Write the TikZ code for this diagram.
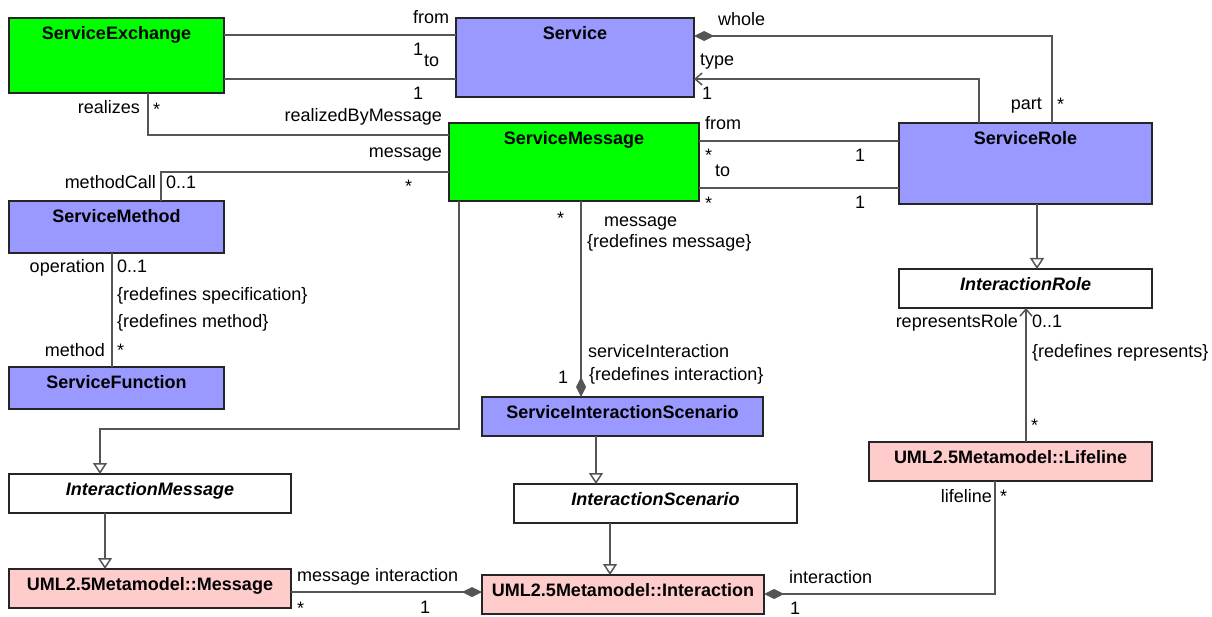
\documentclass[tikz,border=0pt]{standalone}
\usepackage{fontspec}
\setmainfont{Liberation Sans}
\usetikzlibrary{arrows.meta}

\definecolor{svcgreen}{HTML}{00FF00}
\definecolor{svcblue}{HTML}{9999FF}
\definecolor{umlpink}{HTML}{FFCCCC}
\definecolor{linegray}{HTML}{555555}
\newcommand{\dfont}{\fontsize{18}{21}\selectfont}

\tikzset{
  cls/.style n args={3}{draw=black!85, line width=1.5pt, fill=#1,
    minimum width=#2pt, minimum height=#3pt, inner sep=0pt, outer sep=0pt,
    anchor=north west},
  ttl/.style={anchor=north, yshift=-8.5pt, inner sep=0pt, font=\dfont\bfseries},
  abst/.style={font=\dfont\bfseries\itshape},
  lbl/.style={anchor=base west, inner sep=0pt, font=\dfont},
  lblr/.style={anchor=base east, inner sep=0pt, font=\dfont},
  assoc/.style={draw=linegray, line width=1.5pt},
  gen/.style={assoc, -{Triangle[open, length=11pt, width=14pt]}},
  comp/.tip={Diamond[length=20pt, width=10pt]},
  nav/.tip={Straight Barb[length=7pt, width=12pt]}
}

\begin{document}
\begin{tikzpicture}[x=1pt, y=-1pt]
  \useasboundingbox (0,0) rectangle (1212,617);
  % classes
  \node[cls={svcgreen}{215}{75}, label={[ttl]north:ServiceExchange}] (exch) at (9,18) {};
  \node[cls={svcblue}{238}{79}, label={[ttl]north:Service}] (svc) at (456,18) {};
  \node[cls={svcgreen}{250}{78}, label={[ttl]north:ServiceMessage}] (msg) at (449,123) {};
  \node[cls={svcblue}{253}{81}, label={[ttl]north:ServiceRole}] (role) at (899,123) {};
  \node[cls={svcblue}{215}{52}, label={[ttl]north:ServiceMethod}] (meth) at (9,201) {};
  \node[cls={svcblue}{215}{42}, label={[ttl]north:ServiceFunction}] (func) at (9,367) {};
  \node[cls={white}{253}{39}, label={[ttl,abst]north:InteractionRole}] (irole) at (899,269) {};
  \node[cls={svcblue}{281}{39}, label={[ttl]north:ServiceInteractionScenario}] (sis) at (482,397) {};
  \node[cls={umlpink}{283}{39}, label={[ttl]north:{UML2.5Metamodel::Lifeline}}] (life) at (869,442) {};
  \node[cls={white}{282}{39}, label={[ttl,abst]north:InteractionMessage}] (imsg) at (9,474) {};
  \node[cls={white}{283}{39}, label={[ttl,abst]north:InteractionScenario}] (iscen) at (514,484) {};
  \node[cls={umlpink}{282}{39}, label={[ttl]north:{UML2.5Metamodel::Message}}] (umsg) at (9,569) {};
  \node[cls={umlpink}{282}{39}, label={[ttl]north:{UML2.5Metamodel::Interaction}}] (inter) at (482,575) {};

  % associations
  \draw[assoc] (exch.east |- 0,35) -- (svc.west |- 0,35);
  \draw[assoc] (exch.east |- 0,79) -- (svc.west |- 0,79);
  \draw[assoc, comp-] (svc.east |- 0,36) -| (role.north -| 1052,0);
  \draw[assoc, nav-] (svc.east |- 0,79) -| (role.north -| 979,0);
  \draw[assoc] (exch.south -| 148,0) |- (msg.west |- 0,135);
  \draw[assoc] (msg.west |- 0,172) -| (meth.north -| 161,0);
  \draw[assoc] (msg.east |- 0,141) -- (role.west |- 0,141);
  \draw[assoc] (msg.east |- 0,188) -- (role.west |- 0,188);
  \draw[assoc] (meth.south -| 112,0) -- (func.north -| 112,0);
  \draw[assoc, -comp] (msg.south -| 581,0) -- (sis.north -| 581,0);
  \draw[assoc, -nav] (life.north -| 1026,0) -- (irole.south -| 1026,0);
  \draw[assoc, -comp] (umsg.east |- 0,592) -- (inter.west |- 0,592);
  \draw[assoc, -comp] (life.south -| 995,0) |- (inter.east |- 0,594);

  % generalizations
  \draw[gen] (msg.south -| 459,0) |- (100,429) -- (imsg.north -| 100,0);
  \draw[gen] (imsg.south -| 105,0) -- (umsg.north -| 105,0);
  \draw[gen] (sis.south -| 596,0) -- (iscen.north -| 596,0);
  \draw[gen] (iscen.south -| 610,0) -- (inter.north -| 610,0);
  \draw[gen] (role.south -| 1037,0) -- (irole.north -| 1037,0);

  % role names and multiplicities
  \node[lbl] at (413,24) {from};
  \node[lbl] at (413,56) {1};
  \node[lbl] at (424,67) {to};
  \node[lbl] at (413,100) {1};
  \node[lblr] at (140,114) {realizes};
  \node[lbl] at (153,116) {*};
  \node[lblr] at (442,122) {realizedByMessage};
  \node[lblr] at (442,158) {message};
  \node[lblr] at (156,189) {methodCall};
  \node[lbl] at (166,189) {0..1};
  \node[lbl] at (405,193) {*};
  \node[lbl] at (718,26) {whole};
  \node[lbl] at (700,66) {type};
  \node[lbl] at (702,100) {1};
  \node[lbl] at (705,130) {from};
  \node[lbl] at (705,162) {*};
  \node[lbl] at (855,162) {1};
  \node[lbl] at (715,177) {to};
  \node[lbl] at (705,210) {*};
  \node[lbl] at (855,209) {1};
  \node[lblr] at (1042,110) {part};
  \node[lbl] at (1057,111) {*};
  \node[lblr] at (105,273) {operation};
  \node[lbl] at (117,273) {0..1};
  \node[lbl] at (117,301) {\{redefines specification\}};
  \node[lbl] at (117,327) {\{redefines method\}};
  \node[lblr] at (105,356) {method};
  \node[lbl] at (117,356) {*};
  \node[lbl] at (557,225) {*};
  \node[lbl] at (604,227) {message};
  \node[lbl] at (587,248) {\{redefines message\}};
  \node[lbl] at (588,357) {serviceInteraction};
  \node[lbl] at (589,380) {\{redefines interaction\}};
  \node[lbl] at (558,383) {1};
  \node[lblr] at (1018,328) {representsRole};
  \node[lbl] at (1032,328) {0..1};
  \node[lbl] at (1032,357) {\{redefines represents\}};
  \node[lbl] at (1031,431) {*};
  \node[lblr] at (992,502) {lifeline};
  \node[lbl] at (1000,502) {*};
  \node[lbl] at (789,583) {interaction};
  \node[lbl] at (297,581) {message interaction};
  \node[lbl] at (297,614) {*};
  \node[lbl] at (420,613) {1};
  \node[lbl] at (790,614) {1};
\end{tikzpicture}
\end{document}
